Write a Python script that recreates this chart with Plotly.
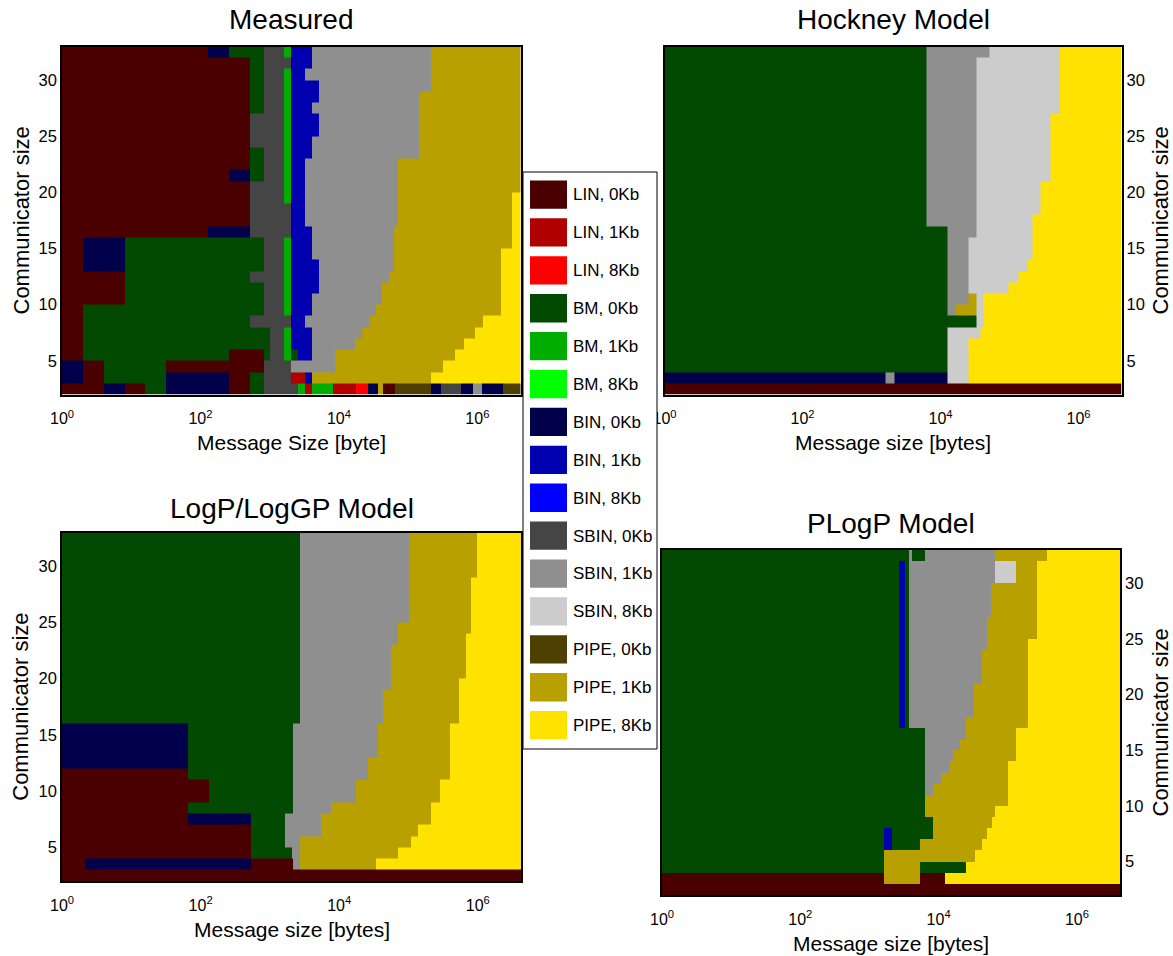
import math
import plotly.graph_objects as go

W, H = 1173, 956

# ---------------- categories ----------------
CAT_CODES = ["L0", "L1", "L8", "M0", "M1", "M8", "B0", "B1", "B8",
             "S0", "S1", "S8", "P0", "P1", "P8"]
CAT_LABELS = ["LIN, 0Kb", "LIN, 1Kb", "LIN, 8Kb", "BM, 0Kb", "BM, 1Kb", "BM, 8Kb",
              "BIN, 0Kb", "BIN, 1Kb", "BIN, 8Kb", "SBIN, 0Kb", "SBIN, 1Kb", "SBIN, 8Kb",
              "PIPE, 0Kb", "PIPE, 1Kb", "PIPE, 8Kb"]
CAT_COLORS = ["#4b0000", "#b00000", "#ff0000", "#024a02", "#00ad00", "#00ff00",
              "#00004b", "#0000b0", "#0000ff", "#454545", "#8f8f8f", "#cccccc",
              "#4d4000", "#b8a000", "#ffe200"]

# communicator size cell edges (rows 2..32)
COMM_EDGES = list(range(2, 34))
MAX_EXP = 22  # largest message size = 2^22 bytes

# Each panel: rows from communicator size 32 (top) down to 2 (bottom).
# Each row: list of (log2 of message size where the region starts, best algorithm)
MEASURED = [
    [(0, "L0"), (7, "B0"), (8, "M0"), (9.67, "S0"), (10.67, "M1"), (11, "B1"), (12, "S1"), (17.7, "P1")],
    [(0, "L0"), (9, "M0"), (9.67, "S0"), (11, "B1"), (12, "S1"), (17.7, "P1")],
    [(0, "L0"), (9, "M0"), (9.67, "S0"), (10.67, "M1"), (11, "B1"), (11.67, "S1"), (17.7, "P1")],
    [(0, "L0"), (9, "M0"), (9.67, "S0"), (10.67, "M1"), (11, "B1"), (12.33, "S1"), (17.7, "P1")],
    [(0, "L0"), (9, "M0"), (9.67, "S0"), (10.67, "M1"), (11, "B1"), (12.33, "S1"), (17.15, "P1")],
    [(0, "L0"), (9, "M0"), (9.67, "S0"), (10.67, "M1"), (11, "B1"), (12, "S1"), (17.15, "P1")],
    [(0, "L0"), (9, "S0"), (10.67, "M1"), (11, "B1"), (12.33, "S1"), (17.15, "P1")],
    [(0, "L0"), (9, "S0"), (10.67, "M1"), (11, "B1"), (12.33, "S1"), (17.15, "P1")],
    [(0, "L0"), (9, "S0"), (10.67, "M1"), (11, "B1"), (12, "S1"), (17.15, "P1")],
    [(0, "L0"), (9, "M0"), (9.67, "S0"), (10.67, "M1"), (11, "B1"), (12, "S1"), (17.15, "P1")],
    [(0, "L0"), (9, "M0"), (9.67, "S0"), (10.67, "M1"), (11, "B1"), (11.67, "S1"), (16.1, "P1")],
    [(0, "L0"), (8, "B0"), (9, "M0"), (9.67, "S0"), (10.67, "M1"), (11, "B1"), (11.67, "S1"), (16.1, "P1")],
    [(0, "L0"), (9, "S0"), (10.67, "M1"), (11, "B1"), (11.67, "S1"), (16.1, "P1")],
    [(0, "L0"), (9, "S0"), (10.67, "M1"), (11, "B1"), (11.67, "S1"), (16.1, "P1"), (21.6, "P8")],
    [(0, "L0"), (9, "S0"), (11, "B1"), (11.67, "S1"), (16.1, "P1"), (21.6, "P8")],
    [(0, "L0"), (9, "S0"), (11, "B1"), (11.67, "S1"), (16.1, "P1"), (21.6, "P8")],
    [(0, "L0"), (7, "B0"), (9, "S0"), (11, "B1"), (12, "S1"), (15.95, "P1"), (21.6, "P8")],
    [(0, "L0"), (1, "B0"), (3, "M0"), (9.67, "S0"), (10.67, "M1"), (11, "B1"), (12, "S1"), (15.95, "P1"), (21.6, "P8")],
    [(0, "L0"), (1, "B0"), (3, "M0"), (9.67, "S0"), (10.67, "M1"), (11, "B1"), (12, "S1"), (15.95, "P1"), (21.05, "P8")],
    [(0, "L0"), (1, "B0"), (3, "M0"), (9.67, "S0"), (10.67, "M1"), (11, "B1"), (12.33, "S1"), (15.95, "P1"), (21.05, "P8")],
    [(0, "L0"), (3, "M0"), (9, "S0"), (10.67, "M1"), (11, "B1"), (12.33, "S1"), (15.67, "P1"), (21.05, "P8")],
    [(0, "L0"), (3, "M0"), (9.67, "S0"), (10.67, "M1"), (11, "B1"), (12.33, "S1"), (15.35, "P1"), (21.05, "P8")],
    [(0, "L0"), (3, "M0"), (9.67, "S0"), (10.67, "M1"), (11, "B1"), (12, "S1"), (15.35, "P1"), (21.05, "P8")],
    [(0, "L0"), (1, "M0"), (9.67, "S0"), (10.67, "M1"), (11, "B1"), (12, "S1"), (15.05, "P1"), (21.05, "P8")],
    [(0, "L0"), (1, "M0"), (9, "S0"), (11, "B1"), (11.67, "S1"), (14.73, "P1"), (20.2, "P8")],
    [(0, "L0"), (1, "M0"), (10, "S0"), (10.67, "M1"), (11, "B1"), (12, "S1"), (14.38, "P1"), (19.8, "P8")],
    [(0, "L0"), (1, "M0"), (10, "S0"), (10.67, "M1"), (11, "B1"), (12, "S1"), (14.05, "P1"), (19.3, "P8")],
    [(0, "L0"), (1, "M0"), (8, "L0"), (9.67, "M0"), (10, "S0"), (10.67, "M1"), (11, "M0"), (11.33, "B1"), (12, "S1"), (13.1, "P1"), (18.85, "P8")],
    [(0, "B0"), (1, "L0"), (2, "M0"), (5, "L0"), (9.67, "S0"), (11, "S1"), (13.1, "P1"), (18.3, "P8")],
    [(0, "B0"), (1, "L0"), (2, "M0"), (5, "B0"), (8, "L0"), (9, "M0"), (9.67, "S0"), (11, "L1"), (11.67, "B1"), (12, "P1"), (17.7, "P8")],
    [(0, "L0"), (2, "B0"), (3, "L0"), (4, "M0"), (5, "B0"), (8, "L0"), (9, "M0"), (9.67, "S0"), (11.33, "M1"),
     (11.67, "L1"), (12, "M1"), (13, "L1"), (14.1, "L8"), (14.7, "B0"), (15.15, "P1"), (15.4, "L0"), (16, "P0"),
     (17.7, "B0"), (18.2, "S0"), (19.15, "B0"), (19.7, "S1"), (20.15, "B0"), (21.15, "P0")],
]

HOCKNEY = [
    [(0, "M0"), (12.62, "S1"), (15.64, "S8"), (19, "P8")],
    [(0, "M0"), (12.62, "S1"), (15.04, "S8"), (19, "P8")],
    [(0, "M0"), (12.62, "S1"), (15.04, "S8"), (19, "P8")],
    [(0, "M0"), (12.62, "S1"), (15.04, "S8"), (19, "P8")],
    [(0, "M0"), (12.62, "S1"), (15.04, "S8"), (19, "P8")],
    [(0, "M0"), (12.62, "S1"), (15.04, "S8"), (19, "P8")],
    [(0, "M0"), (12.62, "S1"), (15.04, "S8"), (18.6, "P8")],
    [(0, "M0"), (12.62, "S1"), (15.04, "S8"), (18.6, "P8")],
    [(0, "M0"), (12.62, "S1"), (15.04, "S8"), (18.6, "P8")],
    [(0, "M0"), (12.62, "S1"), (15.04, "S8"), (18.6, "P8")],
    [(0, "M0"), (12.62, "S1"), (15.04, "S8"), (18.6, "P8")],
    [(0, "M0"), (12.62, "S1"), (15.04, "S8"), (18.6, "P8")],
    [(0, "M0"), (12.62, "S1"), (15.04, "S8"), (18.1, "P8")],
    [(0, "M0"), (12.62, "S1"), (15.04, "S8"), (18.1, "P8")],
    [(0, "M0"), (12.62, "S1"), (15.04, "S8"), (18.1, "P8")],
    [(0, "M0"), (12.62, "S1"), (15.04, "S8"), (17.7, "P8")],
    [(0, "M0"), (13.62, "S1"), (15.04, "S8"), (17.7, "P8")],
    [(0, "M0"), (13.62, "S1"), (14.64, "S8"), (17.7, "P8")],
    [(0, "M0"), (13.62, "S1"), (14.64, "S8"), (17.7, "P8")],
    [(0, "M0"), (13.62, "S1"), (14.64, "S8"), (17.46, "P8")],
    [(0, "M0"), (13.62, "S1"), (14.64, "S8"), (17.06, "P8")],
    [(0, "M0"), (13.62, "S1"), (14.64, "S8"), (16.57, "P8")],
    [(0, "M0"), (13.62, "S1"), (14.64, "P1"), (15.0, "S8"), (15.36, "P8")],
    [(0, "M0"), (13.62, "S1"), (14.02, "P1"), (15.0, "S8"), (15.36, "P8")],
    [(0, "M0"), (15.0, "S8"), (15.36, "P8")],
    [(0, "M0"), (13.62, "S8"), (15.2, "P8")],
    [(0, "M0"), (13.62, "S8"), (14.64, "P8")],
    [(0, "M0"), (13.62, "S8"), (14.64, "P8")],
    [(0, "M0"), (13.62, "S8"), (14.64, "P8")],
    [(0, "B0"), (10.63, "S1"), (11.05, "B0"), (13.62, "S8"), (14.64, "P8")],
    [(0, "L0")],
]

LOGP = [
    [(0, "M0"), (11.41, "S1"), (16.65, "P1"), (19.9, "P8")],
    [(0, "M0"), (11.41, "S1"), (16.65, "P1"), (19.9, "P8")],
    [(0, "M0"), (11.41, "S1"), (16.65, "P1"), (19.9, "P8")],
    [(0, "M0"), (11.41, "S1"), (16.65, "P1"), (19.9, "P8")],
    [(0, "M0"), (11.41, "S1"), (16.65, "P1"), (19.6, "P8")],
    [(0, "M0"), (11.41, "S1"), (16.65, "P1"), (19.6, "P8")],
    [(0, "M0"), (11.41, "S1"), (16.65, "P1"), (19.6, "P8")],
    [(0, "M0"), (11.41, "S1"), (16.65, "P1"), (19.6, "P8")],
    [(0, "M0"), (11.41, "S1"), (16.09, "P1"), (19.6, "P8")],
    [(0, "M0"), (11.41, "S1"), (16.09, "P1"), (19.37, "P8")],
    [(0, "M0"), (11.41, "S1"), (15.77, "P1"), (19.37, "P8")],
    [(0, "M0"), (11.41, "S1"), (15.77, "P1"), (19.37, "P8")],
    [(0, "M0"), (11.41, "S1"), (15.77, "P1"), (19.37, "P8")],
    [(0, "M0"), (11.41, "S1"), (15.77, "P1"), (19.05, "P8")],
    [(0, "M0"), (11.41, "S1"), (15.37, "P1"), (19.05, "P8")],
    [(0, "M0"), (11.41, "S1"), (15.37, "P1"), (19.05, "P8")],
    [(0, "M0"), (11.41, "S1"), (15.37, "P1"), (19.05, "P8")],
    [(0, "B0"), (6.05, "M0"), (11.07, "S1"), (15.13, "P1"), (18.6, "P8")],
    [(0, "B0"), (6.05, "M0"), (11.07, "S1"), (15.13, "P1"), (18.6, "P8")],
    [(0, "B0"), (6.05, "M0"), (11.07, "S1"), (15.13, "P1"), (18.6, "P8")],
    [(0, "B0"), (6.05, "M0"), (11.07, "S1"), (14.65, "P1"), (18.6, "P8")],
    [(0, "L0"), (6.05, "M0"), (11.07, "S1"), (14.65, "P1"), (18.6, "P8")],
    [(0, "L0"), (7.05, "M0"), (11.07, "S1"), (14.09, "P1"), (18.14, "P8")],
    [(0, "L0"), (7.05, "M0"), (11.07, "S1"), (14.09, "P1"), (18.14, "P8")],
    [(0, "L0"), (6.05, "M0"), (11.07, "S1"), (12.88, "P1"), (17.7, "P8")],
    [(0, "L0"), (6.05, "B0"), (9.05, "M0"), (10.69, "S1"), (12.4, "P1"), (17.7, "P8")],
    [(0, "L0"), (9.05, "M0"), (10.69, "S1"), (12.4, "P1"), (17.05, "P8")],
    [(0, "L0"), (9.05, "M0"), (10.69, "S1"), (11.41, "P1"), (16.73, "P8")],
    [(0, "L0"), (9.05, "M0"), (11.04, "S1"), (11.41, "P1"), (16.1, "P8")],
    [(0, "L0"), (1.09, "B0"), (9.05, "L0"), (11.05, "S1"), (11.41, "P1"), (15.05, "P8")],
    [(0, "L0")],
]

PLOGP = [
    [(0, "M0"), (11.86, "S1"), (12.02, "M0"), (12.62, "S1"), (16.0, "P1"), (18.5, "P8")],
    [(0, "M0"), (11.38, "B1"), (11.65, "M0"), (11.86, "S1"), (16.0, "S8"), (17.0, "P1"), (18.0, "P8")],
    [(0, "M0"), (11.38, "B1"), (11.65, "M0"), (11.86, "S1"), (16.0, "S8"), (17.0, "P1"), (18.0, "P8")],
    [(0, "M0"), (11.38, "B1"), (11.65, "M0"), (11.86, "S1"), (15.8, "P1"), (18.0, "P8")],
    [(0, "M0"), (11.38, "B1"), (11.65, "M0"), (11.86, "S1"), (15.8, "P1"), (18.0, "P8")],
    [(0, "M0"), (11.38, "B1"), (11.65, "M0"), (11.86, "S1"), (15.8, "P1"), (18.0, "P8")],
    [(0, "M0"), (11.38, "B1"), (11.65, "M0"), (11.86, "S1"), (15.6, "P1"), (18.0, "P8")],
    [(0, "M0"), (11.38, "B1"), (11.65, "M0"), (11.86, "S1"), (15.6, "P1"), (18.0, "P8")],
    [(0, "M0"), (11.38, "B1"), (11.65, "M0"), (11.86, "S1"), (15.6, "P1"), (17.57, "P8")],
    [(0, "M0"), (11.38, "B1"), (11.65, "M0"), (11.86, "S1"), (15.35, "P1"), (17.57, "P8")],
    [(0, "M0"), (11.38, "B1"), (11.65, "M0"), (11.86, "S1"), (15.35, "P1"), (17.57, "P8")],
    [(0, "M0"), (11.38, "B1"), (11.65, "M0"), (11.86, "S1"), (15.35, "P1"), (17.57, "P8")],
    [(0, "M0"), (11.38, "B1"), (11.65, "M0"), (11.86, "S1"), (15.0, "P1"), (17.57, "P8")],
    [(0, "M0"), (11.38, "B1"), (11.65, "M0"), (11.86, "S1"), (15.0, "P1"), (17.57, "P8")],
    [(0, "M0"), (11.38, "B1"), (11.65, "M0"), (11.86, "S1"), (15.0, "P1"), (17.57, "P8")],
    [(0, "M0"), (11.38, "B1"), (11.65, "M0"), (11.86, "S1"), (14.6, "P1"), (17.57, "P8")],
    [(0, "M0"), (12.62, "S1"), (14.6, "P1"), (17.0, "P8")],
    [(0, "M0"), (12.62, "S1"), (14.3, "P1"), (17.0, "P8")],
    [(0, "M0"), (12.62, "S1"), (14.0, "P1"), (17.0, "P8")],
    [(0, "M0"), (12.62, "S1"), (13.8, "P1"), (16.62, "P8")],
    [(0, "M0"), (12.62, "S1"), (13.4, "P1"), (16.62, "P8")],
    [(0, "M0"), (12.62, "S1"), (13.0, "P1"), (16.62, "P8")],
    [(0, "M0"), (12.62, "P1"), (16.62, "P8")],
    [(0, "M0"), (12.62, "P1"), (15.99, "P8")],
    [(0, "M0"), (13.0, "P1"), (15.83, "P8")],
    [(0, "M0"), (10.64, "B1"), (11.07, "M0"), (13.0, "P1"), (15.59, "P8")],
    [(0, "M0"), (10.64, "B1"), (11.07, "M0"), (12.38, "P1"), (15.35, "P8")],
    [(0, "M0"), (10.64, "P1"), (15.03, "P8")],
    [(0, "M0"), (10.64, "P1"), (12.38, "M0"), (14.6, "P8")],
    [(0, "L0"), (10.64, "P1"), (12.38, "L0"), (13.6, "P8")],
    [(0, "L0")],
]

X_TICKS = [1, 100, 10000, 1000000]
X_TICKTEXT = ["10<sup>0</sup>", "10<sup>2</sup>", "10<sup>4</sup>", "10<sup>6</sup>"]
Y_TICKS = [5, 10, 15, 20, 25, 30]

# panel boxes in pixels: (left, right, top, bottom)
PANELS = [
    dict(name="Measured", rows=MEASURED, box=(62, 520.5, 46.5, 394.5), side="left",
         xtitle="Message Size [byte]", title_gap=27),
    dict(name="Hockney Model", rows=HOCKNEY, box=(664.5, 1121.5, 46.5, 394.5), side="right",
         xtitle="Message size [bytes]", title_gap=27),
    dict(name="LogP/LogGP Model", rows=LOGP, box=(62, 521, 532.5, 881), side="left",
         xtitle="Message size [bytes]", title_gap=24),
    dict(name="PLogP Model", rows=PLOGP, box=(662, 1120, 550, 895), side="right",
         xtitle="Message size [bytes]", title_gap=27),
]

FONT = "Liberation Sans, Arial, Helvetica, sans-serif"


def build(rows):
    edges = sorted({s for row in rows for s, _ in row} | {MAX_EXP})
    z = []
    for row in reversed(rows):  # bottom row (size 2) first
        zr = []
        for e in edges[:-1]:
            cat = row[0][1]
            for s, c in row:
                if s <= e + 1e-9:
                    cat = c
            zr.append(CAT_CODES.index(cat))
        z.append(zr)
    return [2.0 ** e for e in edges], z


n = len(CAT_CODES)
colorscale = []
for i, c in enumerate(CAT_COLORS):
    colorscale.append([i / n, c])
    colorscale.append([(i + 1) / n, c])

fig = go.Figure()
layout = dict(width=W, height=H, margin=dict(l=0, r=0, t=0, b=0, autoexpand=False),
              paper_bgcolor="white", plot_bgcolor="white", showlegend=False,
              font=dict(family=FONT, color="black"))
annotations = []
shapes = []


def px(x):
    return x / W


def py(y):
    return 1 - y / H


for i, p in enumerate(PANELS):
    sfx = "" if i == 0 else str(i + 1)
    x, z = build(p["rows"])
    fig.add_trace(go.Heatmap(x=x, y=COMM_EDGES, z=z, colorscale=colorscale,
                             zmin=-0.5, zmax=n - 0.5, showscale=False,
                             xaxis="x" + sfx, yaxis="y" + sfx, hoverinfo="skip"))
    l, r, t, b = p["box"]
    layout["xaxis" + sfx] = dict(
        type="log", range=[0, math.log10(2 ** MAX_EXP)], domain=[px(l), px(r)],
        anchor="y" + sfx, automargin=False, showline=True, mirror=True,
        linecolor="black", linewidth=1.5,
        showgrid=False, zeroline=False, ticks="", tickvals=X_TICKS, ticktext=X_TICKTEXT,
        ticklabelstandoff=9,
        tickfont=dict(size=16, family=FONT, color="black"))
    layout["yaxis" + sfx] = dict(
        range=[2, 33], domain=[py(b), py(t)], anchor="x" + sfx, side=p["side"],
        automargin=False, showline=True, mirror=True, linecolor="black", linewidth=1.5,
        showgrid=False, zeroline=False, ticks="", tickvals=Y_TICKS,
        tickfont=dict(size=16.5, family=FONT, color="black"))
    cx = (l + r) / 2
    annotations.append(dict(text=p["name"], x=px(cx), y=py(t - p["title_gap"]),
                            xref="paper", yref="paper",
                            showarrow=False, font=dict(size=28, family=FONT, color="black"),
                            xanchor="center", yanchor="middle"))
    annotations.append(dict(text=p["xtitle"], x=px(cx), y=py(b + 48), xref="paper", yref="paper",
                            showarrow=False, font=dict(size=21, family=FONT, color="black"),
                            xanchor="center", yanchor="middle"))
    ytx = 21 if p["side"] == "left" else 1160
    annotations.append(dict(text="Communicator size", x=px(ytx), y=py((t + b) / 2),
                            xref="paper", yref="paper", showarrow=False, textangle=-90,
                            font=dict(size=22, family=FONT, color="black"),
                            xanchor="center", yanchor="middle"))

# legend box
LEG_L, LEG_R, LEG_T, LEG_B = 523, 657, 172, 749
shapes.append(dict(type="rect", xref="paper", yref="paper", x0=px(LEG_L), x1=px(LEG_R),
                   y0=py(LEG_B), y1=py(LEG_T), line=dict(color="black", width=1),
                   fillcolor="white", layer="above"))
for i, (lab, col) in enumerate(zip(CAT_LABELS, CAT_COLORS)):
    top = 180.4 + 37.9 * i
    shapes.append(dict(type="rect", xref="paper", yref="paper", x0=px(530), x1=px(567),
                       y0=py(top + 28.3), y1=py(top), line=dict(width=0), fillcolor=col,
                       layer="above"))
    annotations.append(dict(text=lab, x=px(570.5), y=py(top + 14.5), xref="paper", yref="paper",
                            showarrow=False, xanchor="left", yanchor="middle",
                            font=dict(size=17, family=FONT, color="black")))

layout["annotations"] = annotations
layout["shapes"] = shapes
fig.update_layout(**layout)
fig.write_html("out.html")
